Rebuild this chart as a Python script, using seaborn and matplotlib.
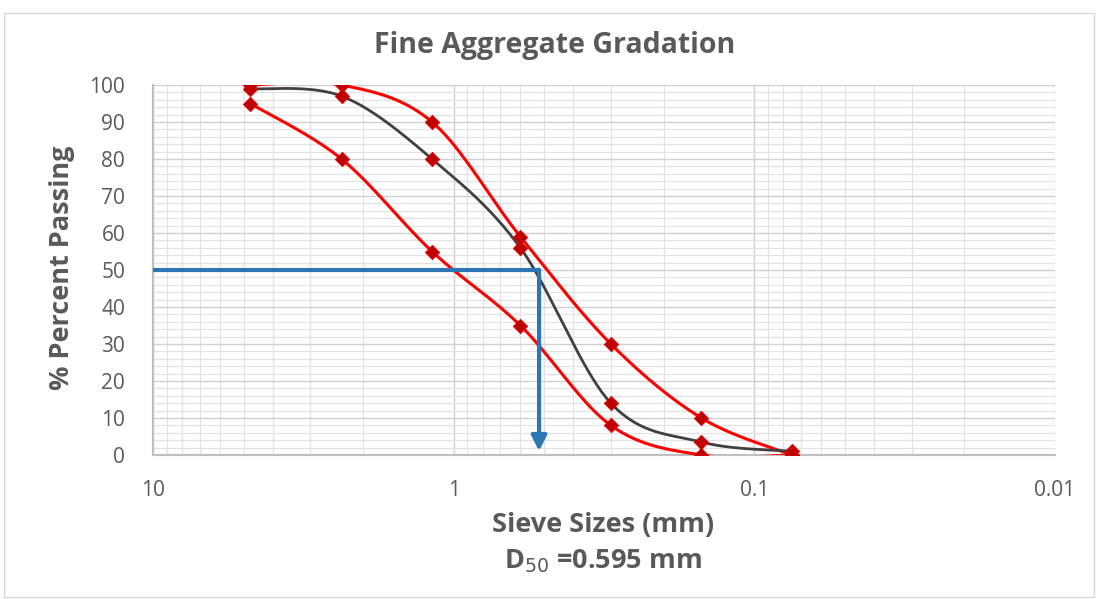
import numpy as np
import pandas as pd
import matplotlib
matplotlib.use("Agg")
import matplotlib.pyplot as plt
import seaborn as sns
from matplotlib.ticker import FixedLocator, MultipleLocator, NullFormatter

# Data
sieve_mm = [4.75, 2.36, 1.18, 0.6, 0.3, 0.15, 0.075]
passing_sample = [99, 97, 80, 56, 14, 3.5, 1]
passing_upper = [100, 100, 90, 59, 30, 10, 0]
passing_lower = [95, 80, 55, 35, 8, 0, 0]
d50_mm = 0.52      # where the arrow drops in the picture
d50_label = "0.595"


def smooth(xs, ys, n=40):
    # Excel style smoothed line: Catmull-Rom through the points in log-x space
    lx = np.log10(xs)
    y = np.asarray(ys, float)
    P = np.column_stack([lx, y])
    P = np.vstack([P[0], P, P[-1]])
    out = []
    t = np.linspace(0, 1, n)[:, None]
    for i in range(1, len(P) - 2):
        p0, p1, p2, p3 = P[i - 1], P[i], P[i + 1], P[i + 2]
        c1 = p1 + (p2 - p0) / 6
        c2 = p2 - (p3 - p1) / 6
        seg = ((1 - t) ** 3) * p1 + 3 * ((1 - t) ** 2) * t * c1 + 3 * (1 - t) * t ** 2 * c2 + t ** 3 * p2
        out.append(seg)
    seg = np.vstack(out)
    return pd.DataFrame({"x": 10 ** seg[:, 0], "y": seg[:, 1]})


sns.set_style("white")
plt.rcParams["font.family"] = ["Open Sans", "DejaVu Sans"]

fig = plt.figure(figsize=(10.98, 5.99), dpi=100)
ax = fig.add_axes([153 / 1098, 1 - 455 / 599, (1055 - 153) / 1098, (455 - 85) / 599])

# border round the chart, like an Excel chart area
fig.patches.append(plt.Rectangle((0.004, 0.004), 0.992, 0.975, transform=fig.transFigure,
                                 fill=False, edgecolor="#D9D9D9", lw=1))

series = [
    (passing_upper, "#FF0000", 2.2),
    (passing_lower, "#FF0000", 2.2),
    (passing_sample, "#404040", 2.0),
]
for vals, col, lw in series:
    sdf = smooth(sieve_mm, vals)
    sns.lineplot(data=sdf, x="x", y="y", sort=False, color=col, lw=lw, ax=ax, zorder=3)
for vals, col, lw in series:
    pts = pd.DataFrame({"x": sieve_mm, "y": vals})
    sns.scatterplot(data=pts, x="x", y="y", marker="D", s=55, color="#C00000",
                    edgecolor="#E00000", linewidth=0.5, ax=ax, zorder=4)

# D50 guide
ax.plot([10, d50_mm], [50, 50], color="#2E75B6", lw=3, zorder=5, solid_capstyle="butt")
ax.annotate("", xy=(d50_mm, 0.3), xytext=(d50_mm, 50.8),
            arrowprops=dict(arrowstyle="-|>,head_length=0.9,head_width=0.45",
                            color="#2E75B6", lw=3), zorder=5)

ax.set_xscale("log")
ax.set_xlim(10, 0.01)
ax.set_ylim(0, 100)
ax.xaxis.set_major_locator(FixedLocator([10, 1, 0.1, 0.01]))
ax.xaxis.set_minor_locator(FixedLocator(
    [m * d for d in (0.01, 0.1, 1) for m in range(2, 10)]))
ax.xaxis.set_minor_formatter(NullFormatter())
ax.set_xticklabels(["10", "1", "0.1", "0.01"])
ax.yaxis.set_major_locator(MultipleLocator(10))
ax.yaxis.set_minor_locator(MultipleLocator(2))

ax.grid(which="major", color="#D0D0D0", lw=1)
ax.grid(which="minor", color="#E3E3E3", lw=0.9)
ax.set_axisbelow(True)
for s in ["top", "right"]:
    ax.spines[s].set_visible(False)
ax.spines["left"].set_color("#BFBFBF")
ax.spines["bottom"].set_color("#BFBFBF")
ax.spines["left"].set_linewidth(1.5)
ax.spines["bottom"].set_linewidth(1.5)
ax.tick_params(which="both", length=0, labelsize=15, labelcolor="#595959")
ax.tick_params(axis="y", pad=20)
ax.tick_params(axis="x", pad=18)

ax.set_xlabel("Sieve Sizes (mm)\n" + r"D$_{50}$ =" + d50_label + " mm",
              fontsize=19.5, fontweight="bold", color="#595959", linespacing=1.45)
ax.xaxis.set_label_coords(0.499, -0.155)
ax.set_ylabel("% Percent Passing", fontsize=19.5, fontweight="bold", color="#595959")
ax.yaxis.set_label_coords(-0.087, 0.505)
fig.text(0.505, 0.924, "Fine Aggregate Gradation", ha="center", va="center",
         fontsize=20.5, fontweight="bold", color="#595959")

fig.savefig("out.png", dpi=100)
